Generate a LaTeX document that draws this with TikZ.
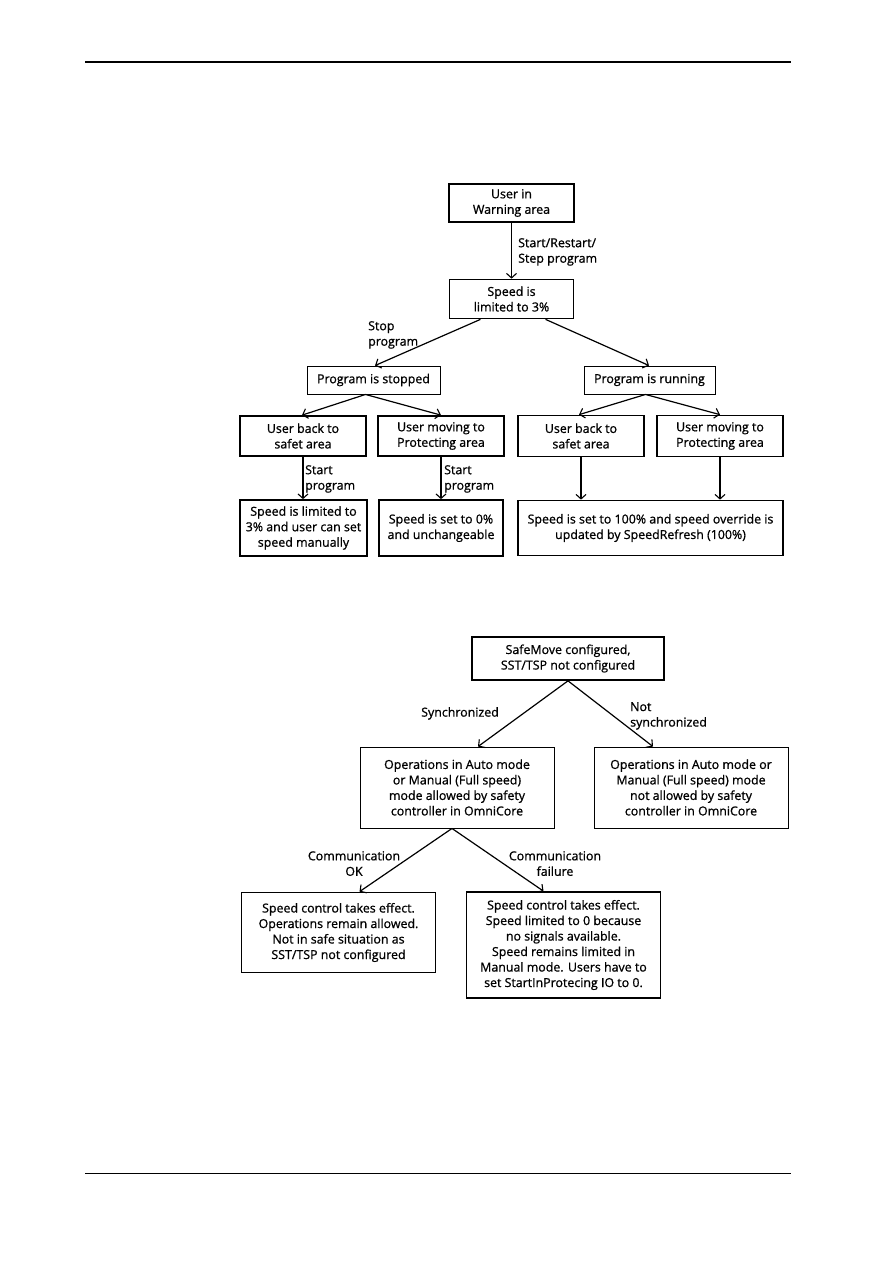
\documentclass[tikz,border=0pt]{standalone}
\usepackage{fontspec}
\setmainfont{Open Sans}[RawFeature={embolden=0.9}]
\usetikzlibrary{arrows.meta,calc}
\begin{document}
\begin{tikzpicture}[x=1pt,y=-1pt,
  txt/.style={font=\fontsize{12.4}{15.5}\selectfont},
  box/.style={draw,align=center,inner sep=0pt,txt},
  thick box/.style={box,line width=1.7pt},
  thin box/.style={box,line width=0.9pt},
  conn/.style={line width=1.2pt,-{Straight Barb[length=4.5pt,width=10pt,line width=1.1pt]}},
  lbl/.style={align=left,inner sep=0pt,anchor=north west,txt},
  clbl/.style={align=center,inner sep=0pt,anchor=north,txt}]
\useasboundingbox (0,0) rectangle (893,1263);
\fill[white] (0,0) rectangle (893,1263);
% page rules
\coordinate (r1a) at (85,62); \coordinate (r1b) at (791,62);
\draw[line width=2pt] (r1a) -- (r1b);
\coordinate (r2a) at (85,1173); \coordinate (r2b) at (791,1173);
\draw[line width=1pt] (r2a) -- (r2b);

% ---------- diagram 1 ----------
\node[thick box,minimum width=125pt,minimum height=38pt] (warn) at (511.5,203) {User in\\Warning area};
\node[thick box,minimum width=124pt,minimum height=39pt] (speed) at (511.5,299) {Speed is\\limited to 3\%};
\node[thin box,minimum width=133pt,minimum height=28pt] (stopped) at (373.5,380) {Program is stopped};
\node[thin box,minimum width=131pt,minimum height=28pt] (running) at (649.5,380) {Program is running};
\node[thick box,minimum width=126pt,minimum height=40pt] (back1) at (303,436) {User back to\\safet area};
\node[thick box,minimum width=126pt,minimum height=40pt] (moving1) at (441,436) {User moving to\\Protecting area};
\node[thick box,minimum width=127pt,minimum height=56pt] (res1) at (303.5,528) {Speed is limited to\\3\% and user can set\\speed manually};
\node[thick box,minimum width=124pt,minimum height=56pt] (res2) at (441,528) {Speed is set to 0\%\\and unchangeable};
\node[thick box,minimum width=126pt,minimum height=41pt] (back2) at (581,436) {User back to\\safet area};
\node[thick box,minimum width=126pt,minimum height=41pt] (moving2) at (720,436) {User moving to\\Protecting area};
\node[thick box,minimum width=265pt,minimum height=55pt] (res3) at (650.5,528) {Speed is set to 100\% and speed override is\\updated by SpeedRefresh (100\%)};

\draw[conn] (warn.south) -- (speed.north);
\node[lbl] (l1) at (518,238) {Start/Restart/\\Step program};
\draw[conn] ($(speed.south)+(-31,0)$) -- ($(stopped.north)+(1.5,0)$);
\draw[conn] ($(speed.south)+(34,0)$) -- ($(running.north)+(-0.5,0)$);
\node[lbl] (l2) at (368,321) {Stop\\program};
\draw[conn] ($(stopped.south)+(-8,0)$) -- ($(back1.north)+(-1,0)$);
\draw[conn] ($(stopped.south)+(-8,0)$) -- (moving1.north);
\draw[conn] ($(running.south)+(-4,0)$) -- ($(back2.north)+(-2,0)$);
\draw[conn] ($(running.south)+(-4,0)$) -- (moving2.north);
\draw[conn] (back1.south) -- (back1.south |- res1.north);
\draw[conn] (moving1.south) -- (moving1.south |- res2.north);
\draw[conn] (back2.south) -- (back2.south |- res3.north);
\draw[conn] (moving2.south) -- (moving2.south |- res3.north);
\node[lbl] (l3) at (305,465) {Start\\program};
\node[lbl] (l4) at (444,465) {Start\\program};

% ---------- diagram 2 ----------
\node[thick box,minimum width=192pt,minimum height=43pt] (sm) at (568,658.5) {SafeMove configured,\\SST/TSP not configured};
\node[thin box,minimum width=194pt,minimum height=81pt] (ops1) at (457,787.5) {Operations in Auto mode\\or Manual (Full speed)\\mode allowed by safety\\controller in OmniCore};
\node[thin box,minimum width=194pt,minimum height=81pt] (ops2) at (691,787.5) {Operations in Auto mode or\\Manual (Full speed) mode\\not allowed by safety\\controller in OmniCore};
\node[thick box,minimum width=194pt,minimum height=80pt] (sc1) at (338.5,932.5) {Speed control takes effect.\\Operations remain allowed.\\Not in safe situation as\\SST/TSP not configured};
\node[thick box,minimum width=194pt,minimum height=106pt] (sc2) at (563.5,945) {Speed control takes effect.\\Speed limited to 0 because\\no signals available.\\Speed remains limited in\\Manual mode. Users have to\\set StartInProtecing IO to 0.};

\draw[conn] (sm.south) -- ($(ops1.north)+(21,0)$);
\draw[conn] (sm.south) -- ($(ops2.north)+(-38,0)$);
\node[clbl] (l5) at (460,707) {Synchronized};
\node[lbl] (l6) at (630,702) {Not\\synchronized};
\draw[conn] ($(ops1.south)+(-5,0)$) -- ($(sc1.north)+(21,0)$);
\draw[conn] ($(ops1.south)+(-5,0)$) -- ($(sc2.north)+(-20,0)$);
\node[clbl] (l7) at (354,851) {Communication\\OK};
\node[clbl] (l8) at (555,851) {Communication\\failure};
\end{tikzpicture}
\end{document}
